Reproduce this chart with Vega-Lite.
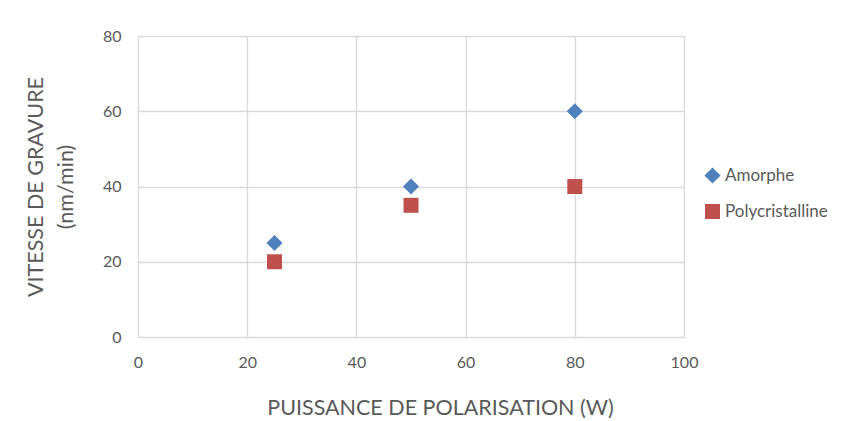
{
  "$schema": "https://vega.github.io/schema/vega-lite/v6.json",
  "autosize": {"type": "none"},
  "width": 546,
  "height": 301,
  "padding": {"left": 138, "top": 36, "right": 160, "bottom": 84},
  "background": "white",
  "data": {"values": [
    {"puissance": 25, "vitesse": 25, "serie": "Amorphe"},
    {"puissance": 50, "vitesse": 40, "serie": "Amorphe"},
    {"puissance": 80, "vitesse": 60, "serie": "Amorphe"},
    {"puissance": 25, "vitesse": 20, "serie": "Polycristalline"},
    {"puissance": 50, "vitesse": 35, "serie": "Polycristalline"},
    {"puissance": 80, "vitesse": 40, "serie": "Polycristalline"}
  ]},
  "mark": {"type": "point", "filled": true, "opacity": 1, "strokeWidth": 0},
  "encoding": {
    "x": {"field": "puissance", "type": "quantitative",
      "scale": {"domain": [0, 100], "nice": false},
      "axis": {"values": [0, 20, 40, 60, 80, 100], "title": "PUISSANCE DE POLARISATION (W)", "titleX": 302, "titleAnchor": "middle", "titlePadding": 27, "labelFlush": false}},
    "y": {"field": "vitesse", "type": "quantitative",
      "scale": {"domain": [0, 80], "nice": false},
      "axis": {"values": [0, 20, 40, 60, 80], "title": ["VITESSE DE GRAVURE", "(nm/min)"], "titlePadding": 25, "titleLineHeight": 30, "labelFlush": false}},
    "color": {"field": "serie", "type": "nominal",
      "scale": {"domain": ["Amorphe", "Polycristalline"], "range": ["#4F81BD", "#C0504D"]},
      "legend": {"title": null, "orient": "none", "legendX": 566, "legendY": 131}},
    "shape": {"field": "serie", "type": "nominal",
      "scale": {"domain": ["Amorphe", "Polycristalline"], "range": ["diamond", "square"]}},
    "size": {"field": "serie", "type": "nominal",
      "scale": {"domain": ["Amorphe", "Polycristalline"], "range": [260, 225]}, "legend": null}
  },
  "config": {
    "font": "Lato",
    "view": {"stroke": null},
    "axis": {
      "domain": false, "ticks": false,
      "grid": true, "gridColor": "#D9D9D9", "gridWidth": 1.3,
      "labelFont": "Lato", "labelFontSize": 16, "labelColor": "#595959", "labelPadding": 17,
      "titleFont": "Lato", "titleFontSize": 21.5, "titleFontWeight": "normal", "titleColor": "#595959"
    },
    "legend": {
      "labelFont": "Lato", "labelFontSize": 17, "labelColor": "#595959",
      "symbolSize": 130, "symbolStrokeWidth": 0, "rowPadding": 18, "labelOffset": 4
    }
  }
}
